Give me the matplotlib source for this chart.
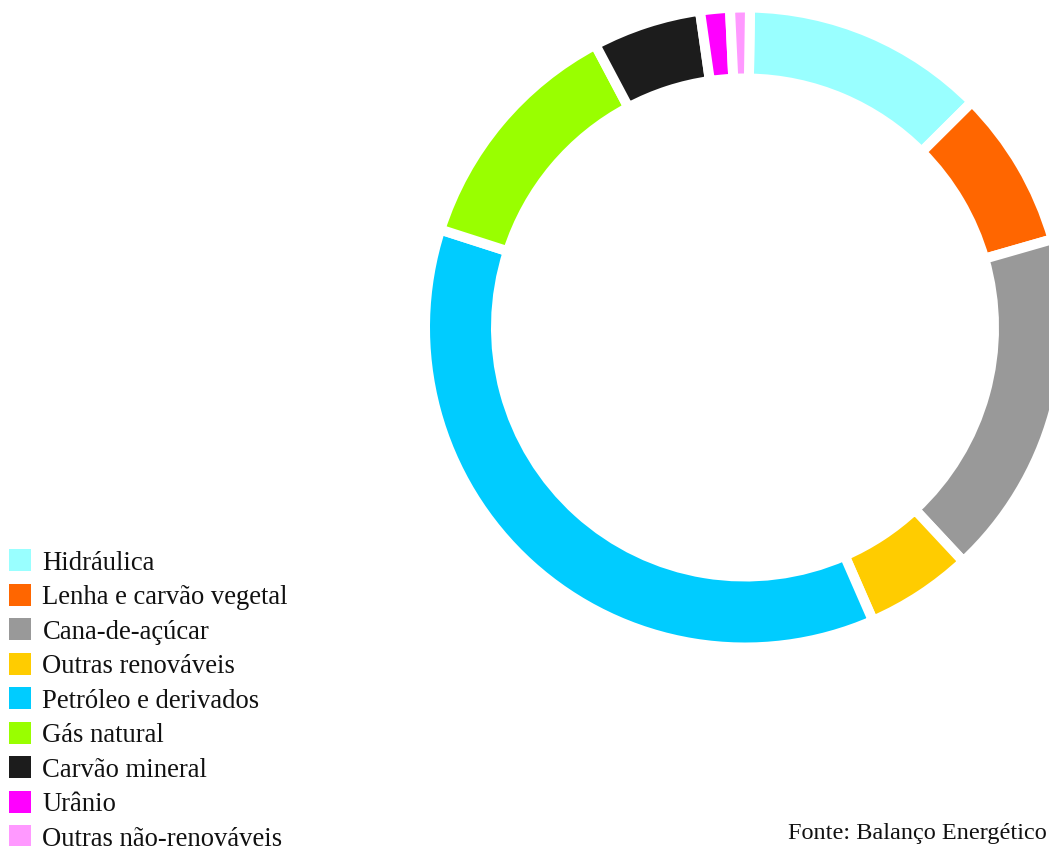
import matplotlib.pyplot as plt
from matplotlib.patches import Rectangle

# Matriz energética (%)
fontes = ['Hidráulica', 'Lenha e carvão vegetal', 'Cana-de-açúcar', 'Outras renováveis',
          'Petróleo e derivados', 'Gás natural', 'Carvão mineral', 'Urânio',
          'Outras não-renováveis']
valores = [12.3, 8.0, 17.5, 5.4, 36.5, 12.3, 5.5, 1.5, 1.0]
cores = ['#99FFFF', '#FF6600', '#999999', '#FFCC00', '#00CCFF', '#99FF00',
         '#1C1C1C', '#FF00FF', '#FF99FF']
nota = 'Fonte: Balanço Energético'

W, H = 1049, 846
fig = plt.figure(figsize=(W / 100, H / 100), dpi=100)
ax = fig.add_axes([0, 0, 1, 1])

# rosca: bordas brancas fazem os espaços entre as fatias
ax.pie(valores, colors=cores, startangle=89.1, counterclock=False,
       center=(745, H - 327.5), radius=320,
       wedgeprops=dict(width=71, edgecolor='white', linewidth=7.2))

ax.set_xlim(0, W)
ax.set_ylim(0, H)
ax.set_aspect('auto')
ax.axis('off')

# legenda
for i, (nome, cor) in enumerate(zip(fontes, cores)):
    topo = 549.3 + i * 34.5
    ax.add_patch(Rectangle((9, H - topo - 21.7), 22, 21.7, color=cor, lw=0))
    ax.text(42.5, H - topo - 20.3, nome, fontsize=19.2, family='Liberation Serif',
            va='baseline', ha='left', color='#111111')

ax.text(788, H - 839, nota, fontsize=17.5, family='Liberation Serif',
        va='baseline', ha='left', color='#111111')

fig.savefig('out.png', dpi=100)
